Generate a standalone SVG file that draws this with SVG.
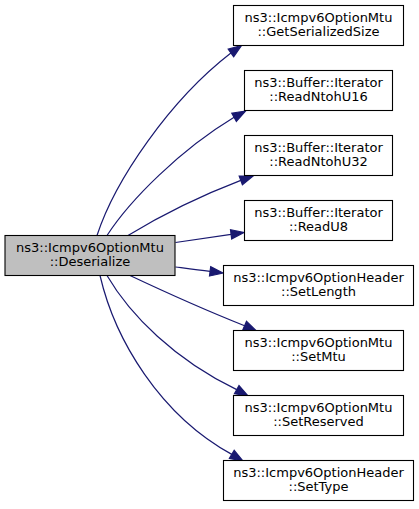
<svg xmlns="http://www.w3.org/2000/svg" width="419" height="509" viewBox="0 0 419 509">
<style>
.node rect{fill:#ffffff;stroke:#000000;stroke-width:1.1}
.node.main rect{fill:#bfbfbf}
text{font-family:"DejaVu Sans","Liberation Sans",sans-serif;font-size:13px;text-anchor:middle;fill:#000000}
.edge path{fill:none;stroke:#191970;stroke-width:1.2}
.edge polygon{fill:#191970;stroke:#191970;stroke-width:1.2}
</style>
<rect width="419" height="509" fill="#ffffff"/>
<g id="connectors" class="edge">
<path d="M97,235.5 C115,180 170,100 230.9,53"/>
<polygon points="233.6,56.8 241.5,45.5 228.2,49.2"/>
<path d="M107,235.5 C130,200 180,150 234.1,117.3"/>
<polygon points="236.4,121.4 245.5,111 231.8,113.2"/>
<path d="M128,235.5 C160,216 200,196 240.8,180.4"/>
<polygon points="242.4,184.8 253,176 239.2,176"/>
<path d="M175.5,242.5 C193,240 212,237 231.1,234.3"/>
<polygon points="231.7,239 244,232.5 230.5,229.7"/>
<path d="M175.5,267 C187,268.5 198,270 210.1,271.3"/>
<polygon points="209.5,276 223,273 210.7,266.6"/>
<path d="M130,275.5 C165,292 205,310 244.6,325.75"/>
<polygon points="242.7,330.1 256.5,331 246.5,321.4"/>
<path d="M107,275.5 C130,315 175,360 236.7,389.6"/>
<polygon points="234.4,393.7 248,396 239,385.5"/>
<path d="M100,275.5 C115,340 160,415 231.8,454.4"/>
<polygon points="229.4,458.4 243,461 234.2,450.4"/>
</g>
<g id="node_deserialize" class="node main">
<rect x="5" y="235.5" width="170" height="40"/>
<text x="90" y="251.5">ns3::Icmpv6OptionMtu</text>
<text x="90" y="266.2">::Deserialize</text>
</g>
<g id="node_getserializedsize" class="node">
<rect x="233.5" y="5.5" width="170" height="40"/>
<text x="318.5" y="21.5">ns3::Icmpv6OptionMtu</text>
<text x="318.5" y="36.2">::GetSerializedSize</text>
</g>
<g id="node_readntohu16" class="node">
<rect x="244.5" y="70.5" width="148" height="40"/>
<text x="318.5" y="86.5">ns3::Buffer::Iterator</text>
<text x="318.5" y="101.2">::ReadNtohU16</text>
</g>
<g id="node_readntohu32" class="node">
<rect x="244.5" y="135.5" width="148" height="40"/>
<text x="318.5" y="151.5">ns3::Buffer::Iterator</text>
<text x="318.5" y="166.2">::ReadNtohU32</text>
</g>
<g id="node_readu8" class="node">
<rect x="244.5" y="200.5" width="148" height="40"/>
<text x="318.5" y="216.5">ns3::Buffer::Iterator</text>
<text x="318.5" y="231.2">::ReadU8</text>
</g>
<g id="node_setlength" class="node">
<rect x="223.5" y="265.5" width="190" height="40"/>
<text x="318.5" y="281.5">ns3::Icmpv6OptionHeader</text>
<text x="318.5" y="296.2">::SetLength</text>
</g>
<g id="node_setmtu" class="node">
<rect x="233.5" y="330.5" width="170" height="40"/>
<text x="318.5" y="346.5">ns3::Icmpv6OptionMtu</text>
<text x="318.5" y="361.2">::SetMtu</text>
</g>
<g id="node_setreserved" class="node">
<rect x="233.5" y="395.5" width="170" height="40"/>
<text x="318.5" y="411.5">ns3::Icmpv6OptionMtu</text>
<text x="318.5" y="426.2">::SetReserved</text>
</g>
<g id="node_settype" class="node">
<rect x="223.5" y="460.5" width="190" height="40"/>
<text x="318.5" y="476.5">ns3::Icmpv6OptionHeader</text>
<text x="318.5" y="491.2">::SetType</text>
</g>
</svg>
